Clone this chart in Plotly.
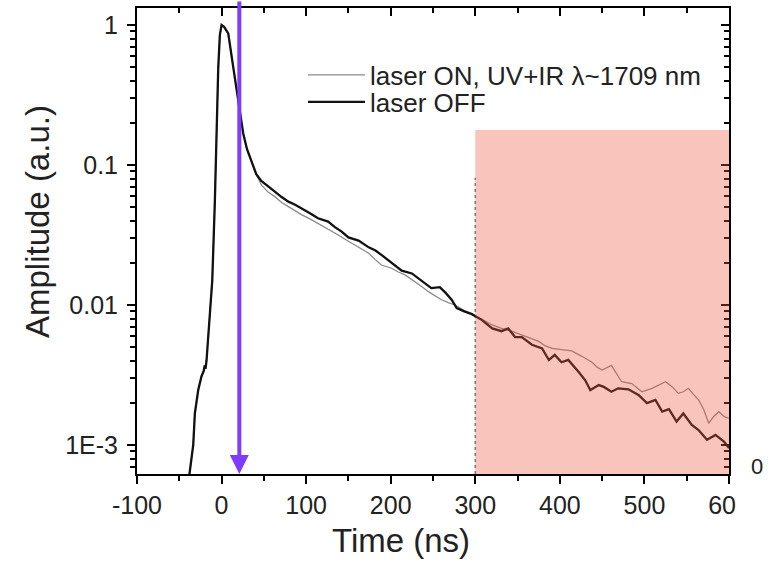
import plotly.graph_objects as go

# ---------------- data ----------------
t_common = [-40, -36, -33.5, -31.6, -27.6, -23.7, -21, -20, -19, -17.8, -13.8, -11, -7.9, -5.9,
            -3.9, -2, 0, 3, 7.9, 13.8, 19.7, 25.6, 30, 35.5, 41]
v_common = [5.0e-4, 8.0e-4, 1.0e-3, 1.68e-3, 2.47e-3, 3.1e-3, 3.4e-3, 3.7e-3, 3.5e-3, 4.0e-3,
            8.7e-3, 0.015, 0.056, 0.17, 0.50, 0.85, 1.0, 0.97, 0.87, 0.50, 0.29, 0.168, 0.13,
            0.105, 0.086]

t_off = [47, 55, 63, 71, 79, 87, 95, 105, 114, 126, 134, 142, 150, 162, 174, 182, 189, 197, 205,
         213, 225, 237, 248, 258, 265, 272, 278, 287, 296, 308, 320, 331, 339, 347, 355, 367, 379,
         387, 394, 402, 410, 422, 430, 436, 446, 452, 461, 469, 481, 493, 503, 513, 521, 529, 538,
         546, 556, 564, 574, 584, 594, 600]
v_off = [0.077, 0.070, 0.0645, 0.059, 0.0547, 0.052, 0.049, 0.045, 0.0416, 0.0394, 0.036, 0.0334,
         0.0304, 0.0288, 0.0258, 0.0245, 0.0228, 0.0210, 0.0192, 0.0176, 0.0168, 0.0147, 0.0132,
         0.0134, 0.0122, 0.0109, 0.0095, 0.0090, 0.0086, 0.0078, 0.0068, 0.0065, 0.0068, 0.0059,
         0.0059, 0.0052, 0.0049, 0.00405, 0.0044, 0.0039, 0.00405, 0.00334, 0.0029, 0.00247,
         0.00268, 0.0026, 0.0024, 0.00254, 0.0025, 0.00228, 0.00199, 0.0021, 0.00173, 0.0018,
         0.00147, 0.00168, 0.00139, 0.00128, 0.00109, 0.00118, 0.00106, 0.00095]

t_on = [47, 55, 63, 71, 79, 87, 95, 105, 114, 126, 138, 148, 158, 166, 174, 182, 189, 201, 209,
        217, 229, 237, 245, 253, 260, 268, 276, 286, 296, 308, 320, 331, 343, 355, 365, 375, 383,
        391, 402, 414, 426, 438, 444, 450, 461, 467, 473, 485, 497, 509, 517, 525, 533, 540, 546,
        552, 558, 564, 570, 576, 582, 588, 594, 600]
v_on = [0.072, 0.064, 0.0594, 0.054, 0.0504, 0.047, 0.044, 0.041, 0.0383, 0.035, 0.0316, 0.029,
        0.0268, 0.025, 0.0234, 0.021, 0.0193, 0.0183, 0.0172, 0.0164, 0.0147, 0.0135, 0.0124,
        0.0115, 0.0109, 0.0104, 0.0100, 0.0092, 0.0086, 0.0079, 0.0072, 0.0068, 0.0065, 0.0061,
        0.0058, 0.0055, 0.0051, 0.0049, 0.0048, 0.0047, 0.0043, 0.0039, 0.0036, 0.00343, 0.0037,
        0.0032, 0.00283, 0.00275, 0.0024, 0.00254, 0.0027, 0.00283, 0.0026, 0.00234, 0.0024,
        0.00254, 0.0023, 0.0021, 0.0018, 0.00143, 0.0016, 0.00173, 0.0016, 0.00155]

x_tickvals = [-100, 0, 100, 200, 300, 400, 500, 600]
x_ticktext = ["-100", "0", "100", "200", "300", "400", "500", "60\u00a0\u00a0"]
x_minorvals = [-50, 50, 150, 250, 350, 450, 550]
y_tickvals = [1e-3, 1e-2, 1e-1, 1]
y_ticktext = ["1E-3", "0.01", "0.1", "1"]
y_minorvals = [m * 10 ** e for e in range(-4, 1) for m in range(2, 10)]

X_RANGE = [-100, 600]
Y_LOG_RANGE = [-3.207, 0.121]
ARROW_T = 21          # position of the excitation arrow (ns)
SHADE_START = 300     # start of shaded window (ns)
SHADE_END = 600
SHADE_TOP = 0.178
DOT_TOP = 0.081

FONT = "Arial, Liberation Sans, sans-serif"
TXT = "#222222"

fig = go.Figure()
fig.add_trace(go.Scatter(x=t_common + t_on, y=v_common + v_on, mode="lines",
                         name="laser ON, UV+IR \u03bb~1709 nm", legend="legend",
                         line=dict(color="#8a8a8a", width=1.3)))
fig.add_trace(go.Scatter(x=t_common + t_off, y=v_common + v_off, mode="lines",
                         name="laser OFF", legend="legend2",
                         line=dict(color="#111111", width=2.3)))
# invisible traces anchoring the tick-only overlay axes
for xa, ya in [("x2", "y2"), ("x3", "y3"), ("x4", "y4")]:
    fig.add_trace(go.Scatter(x=[X_RANGE[0]], y=[1], xaxis=xa, yaxis=ya, mode="markers",
                             marker=dict(opacity=0), showlegend=False, hoverinfo="skip"))

bottom = 10 ** Y_LOG_RANGE[0]
fig.add_shape(type="line", xref="x", yref="y", x0=SHADE_START, x1=SHADE_START,
              y0=bottom, y1=DOT_TOP, line=dict(color="#777777", width=1.5, dash="dot"),
              layer="below")
fig.add_shape(type="rect", xref="x", yref="y", x0=SHADE_START, x1=SHADE_END,
              y0=bottom, y1=SHADE_TOP, fillcolor="rgb(234,86,63)", opacity=0.35,
              line=dict(width=0), layer="above")

fig.add_annotation(x=ARROW_T, y=Y_LOG_RANGE[0], xref="x", yref="y", showarrow=True,
                   ax=0, ay=-474, axref="pixel", ayref="pixel", arrowcolor="#7d3cff",
                   arrowwidth=4, arrowhead=2, arrowsize=0.95, text="")

fig.add_annotation(text="Amplitude (a.u.)", xref="paper", yref="paper", x=-0.167, y=0.541,
                   xanchor="center", yanchor="middle", textangle=-90, showarrow=False,
                   font=dict(size=33, color=TXT, family=FONT))
fig.add_annotation(text="Time (ns)", xref="paper", yref="paper", x=0.446, y=-0.142,
                   xanchor="center", yanchor="middle", showarrow=False,
                   font=dict(size=33, color=TXT, family=FONT))
fig.add_annotation(text="0", xref="paper", yref="paper", x=1.047, y=0.017,
                   xanchor="center", yanchor="middle", showarrow=False,
                   font=dict(size=22, color=TXT, family=FONT))

axis_common = dict(showgrid=False, zeroline=False, showline=True, linecolor="black",
                   linewidth=2)
tick_major = dict(ticklen=8, tickwidth=2, tickcolor="black")
tick_minor = dict(ticklen=5, tickwidth=1.8, tickcolor="black")
legend_common = dict(xanchor="left", yanchor="middle", bgcolor="rgba(0,0,0,0)",
                     font=dict(size=26, family=FONT, color=TXT), itemwidth=57)

fig.update_layout(
    width=769, height=573,
    margin=dict(l=137, r=40, t=8, b=99),
    paper_bgcolor="white", plot_bgcolor="white",
    font=dict(family=FONT, color=TXT),
    # main axes: major ticks + labels
    xaxis=dict(range=X_RANGE, tickmode="array", tickvals=x_tickvals, ticktext=x_ticktext,
               ticks="outside", tickfont=dict(size=25, family=FONT, color=TXT),
               **tick_major, **axis_common),
    yaxis=dict(type="log", range=Y_LOG_RANGE, tickmode="array", tickvals=y_tickvals,
               ticktext=y_ticktext, ticks="outside", ticklabelstandoff=4,
               tickfont=dict(size=25, family=FONT, color=TXT),
               **tick_major, **axis_common),
    # mirrored top/right axes: inside major ticks
    xaxis2=dict(range=X_RANGE, overlaying="x", side="top", anchor="y", tickmode="array",
                tickvals=x_tickvals, showticklabels=False, ticks="inside",
                **tick_major, **axis_common),
    yaxis2=dict(type="log", range=Y_LOG_RANGE, overlaying="y", side="right", anchor="x",
                tickmode="array", tickvals=y_tickvals, showticklabels=False, ticks="inside",
                **tick_major, **axis_common),
    # minor ticks bottom/left (outside)
    xaxis3=dict(range=X_RANGE, overlaying="x", side="bottom", anchor="y", tickmode="array",
                tickvals=x_minorvals, showticklabels=False, ticks="outside",
                **tick_minor, **axis_common),
    yaxis3=dict(type="log", range=Y_LOG_RANGE, overlaying="y", side="left", anchor="x",
                tickmode="array", tickvals=y_minorvals, showticklabels=False, ticks="outside",
                **tick_minor, **axis_common),
    # minor ticks top/right (inside)
    xaxis4=dict(range=X_RANGE, overlaying="x", side="top", anchor="y", tickmode="array",
                tickvals=x_minorvals, showticklabels=False, ticks="inside",
                **tick_minor, **axis_common),
    yaxis4=dict(type="log", range=Y_LOG_RANGE, overlaying="y", side="right", anchor="x",
                tickmode="array", tickvals=y_minorvals, showticklabels=False, ticks="inside",
                **tick_minor, **axis_common),
    legend=dict(x=(303 - 137) / 592, y=(474 - 75) / 466, **legend_common),
    legend2=dict(x=(303 - 137) / 592, y=(474 - 102) / 466, **legend_common),
    showlegend=True,
)

fig.write_html("out.html")
